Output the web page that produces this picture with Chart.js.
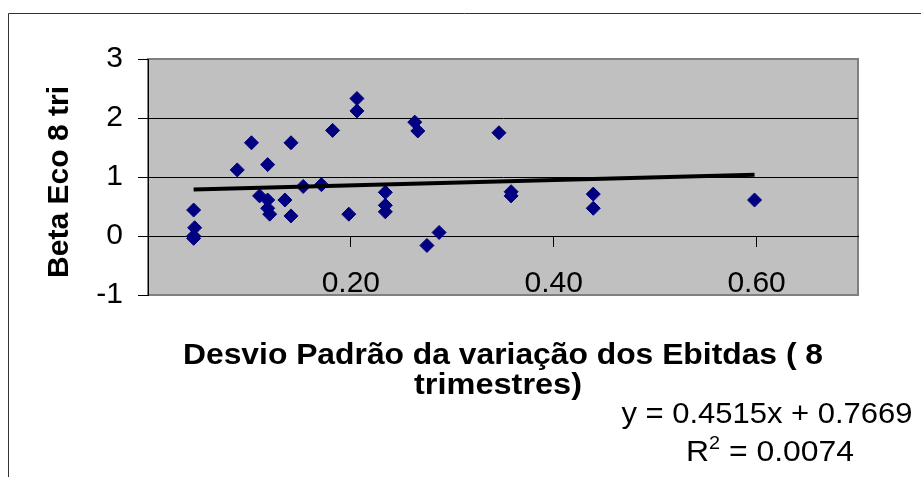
<!DOCTYPE html>
<html>
<head>
<meta charset="utf-8">
<script src="https://cdn.jsdelivr.net/npm/chart.js@4.4.0/dist/chart.umd.min.js"></script>
<style>
html, body { margin: 0; padding: 0; background: #fff; }
canvas { display: block; }
</style>
</head>
<body>
<canvas id="myChart" width="921" height="477" style="width:921px;height:477px"></canvas>
<script>
// desvio padrão (x) e beta (y) de cada empresa
const desvioValues = [0.045, 0.046, 0.045, 0.045, 0.088, 0.102, 0.118, 0.110, 0.118, 0.118, 0.120,
    0.135, 0.141, 0.141, 0.153, 0.171, 0.182, 0.198, 0.206, 0.206, 0.234, 0.234, 0.234,
    0.263, 0.266, 0.275, 0.287, 0.346, 0.358, 0.358, 0.439, 0.439, 0.598];
const betaValues = [0.44, 0.14, 0.00, -0.04, 1.12, 1.58, 1.21, 0.68, 0.61, 0.47, 0.37,
    0.61, 1.58, 0.34, 0.84, 0.87, 1.79, 0.37, 2.33, 2.12, 0.74, 0.52, 0.41,
    1.93, 1.78, -0.16, 0.06, 1.75, 0.75, 0.68, 0.71, 0.47, 0.61];

// linha de tendência (do rótulo do Excel)
const trendSlope = 0.4515;
const trendIntercept = 0.7669;
const trendR2 = 0.0074;

const xTickValues = [0.2, 0.4, 0.6];
const yTickValues = [-1, 0, 1, 2, 3];

const xTitleLines = ['Desvio Padrão da variação dos Ebitdas ( 8', 'trimestres)'];
const yTitle = 'Beta Eco 8 tri';

const FONT = '"Liberation Sans", Arial, sans-serif';
Chart.defaults.font.family = FONT;
Chart.defaults.color = '#000';

const points = desvioValues.map((x, i) => ({ x: x, y: betaValues[i] }));
const xMin = Math.min(...desvioValues);
const xMax = Math.max(...desvioValues);
const trendPoints = [xMin, xMax].map(x => ({ x: x, y: trendSlope * x + trendIntercept }));

// draw text stretched to a given width (Excel renders text wider)
function fitText(ctx, text, x, y, width, font) {
    ctx.font = font;
    const w = ctx.measureText(text).width;
    ctx.save();
    ctx.translate(x, y);
    ctx.scale(width / w, 1);
    ctx.textAlign = 'center';
    ctx.textBaseline = 'alphabetic';
    ctx.fillText(text, 0, 0);
    ctx.restore();
}

const excelDecor = {
    id: 'excelDecor',
    beforeDraw(chart) {
        const ctx = chart.ctx;
        const a = chart.chartArea;
        ctx.save();
        ctx.fillStyle = '#fff';
        ctx.fillRect(0, 0, chart.width, chart.height);
        ctx.fillStyle = '#c0c0c0';
        ctx.fillRect(a.left, a.top, a.right - a.left, a.bottom - a.top);
        ctx.strokeStyle = '#808080';
        ctx.lineWidth = 2;
        ctx.strokeRect(a.left, a.top, a.right - a.left, a.bottom - a.top);
        // outer chart border
        ctx.strokeStyle = '#333';
        ctx.lineWidth = 1;
        ctx.beginPath();
        ctx.moveTo(8.5, chart.height);
        ctx.lineTo(8.5, 13.5);
        ctx.lineTo(chart.width, 13.5);
        ctx.stroke();
        ctx.restore();
    },
    afterDraw(chart) {
        const ctx = chart.ctx;
        ctx.save();
        ctx.fillStyle = '#000';
        const bold = 'bold 30px ' + FONT;
        fitText(ctx, xTitleLines[0], 503, 364, 640, bold);
        fitText(ctx, xTitleLines[1], 498, 394, 168, bold);

        // y title, rotated
        ctx.save();
        ctx.translate(68, 182);
        ctx.rotate(-Math.PI / 2);
        fitText(ctx, yTitle, 0, 0, 192, bold);
        ctx.restore();

        // trendline equation
        const eq = 'y = ' + trendSlope.toFixed(4) + 'x + ' + trendIntercept.toFixed(4);
        fitText(ctx, eq, 767, 423, 291, '29px ' + FONT);

        // R² line with superscript
        const big = '29px ' + FONT, small = '18px ' + FONT;
        const rest = ' = ' + trendR2.toFixed(4);
        ctx.font = big;
        const wR = ctx.measureText('R').width;
        const wRest = ctx.measureText(rest).width;
        ctx.font = small;
        const wSup = ctx.measureText('2').width;
        const total = wR + wSup + wRest;
        const sx = 168 / total;
        ctx.save();
        ctx.translate(770 - 84, 461);
        ctx.scale(sx, 1);
        ctx.textAlign = 'left';
        ctx.textBaseline = 'alphabetic';
        ctx.font = big;
        ctx.fillText('R', 0, 0);
        ctx.font = small;
        ctx.fillText('2', wR, -12);
        ctx.font = big;
        ctx.fillText(rest, wR + wSup, 0);
        ctx.restore();
        ctx.restore();
    }
};

const ctx = document.getElementById('myChart').getContext('2d');
const chart = new Chart(ctx, {
    type: 'scatter',
    data: {
        datasets: [
            {
                type: 'line',
                label: 'Tendência',
                data: trendPoints,
                borderColor: '#000',
                borderWidth: 4,
                pointRadius: 0,
                fill: false,
                order: 0,
            },
            {
                label: 'Beta',
                data: points,
                pointStyle: 'rectRot',
                pointRadius: 7,
                pointHoverRadius: 7,
                backgroundColor: '#000080',
                borderColor: '#000080',
                borderWidth: 1,
                order: 1,
            },
        ],
    },
    options: {
        responsive: false,
        animation: false,
        events: [],
        layout: { padding: { left: 0, top: 59, right: 63, bottom: 182 } },
        plugins: {
            legend: { display: false },
            tooltip: { enabled: false },
        },
        scales: {
            x: {
                type: 'linear',
                position: { y: 0 },
                min: 0,
                max: 0.7,
                afterBuildTicks: (scale) => {
                    scale.ticks = xTickValues.map(v => ({ value: v }));
                },
                grid: {
                    drawOnChartArea: false,
                    drawTicks: true,
                    tickLength: 10,
                    tickColor: '#000',
                },
                border: { display: true, color: '#000', width: 1 },
                ticks: {
                    padding: 20,
                    maxRotation: 0,
                    font: { size: 30 },
                    callback: (v) => v.toFixed(2),
                },
            },
            y: {
                type: 'linear',
                min: -1,
                max: 3,
                afterFit: (scale) => { scale.width = 148; },
                afterBuildTicks: (scale) => {
                    scale.ticks = yTickValues.map(v => ({ value: v }));
                },
                grid: {
                    color: (c) => (c.tick && (c.tick.value === 3 || c.tick.value === -1)) ? 'rgba(0,0,0,0)' : '#000',
                    tickColor: '#000',
                    tickLength: 10,
                    lineWidth: 1,
                },
                border: { display: true, color: '#000', width: 1 },
                ticks: {
                    padding: 15,
                    font: { size: 30 },
                    callback: (v) => String(v),
                },
            },
        },
    },
    plugins: [excelDecor],
});
</script>
</body>
</html>
